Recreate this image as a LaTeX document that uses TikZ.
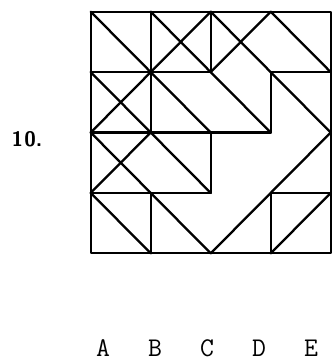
\documentclass[tikz,border=0pt]{standalone}
\usepackage{tikz}
\usetikzlibrary{arrows.meta}

\begin{document}
\begin{tikzpicture}[x=60pt,y=-60.4pt,line width=2.3pt,line cap=round,line join=round]
\useasboundingbox(-1.512,-0.194)rectangle(4.088,5.783);
% frame and inner edges
\draw(0,0)rectangle(4,4);
\draw(1,0)--(1,2) (1,3)--(1,4) (2,0)--(2,1) (2,2)--(2,3) (3,1)--(3,2) (3,3)--(3,4);
\draw(0,1)--(2,1) (3,1)--(4,1) (0,2)--(3,2) (0,3)--(2,3) (3,3)--(4,3);
% diagonals
\draw(0,0)--(2,2) (1,0)--(3,2) (2,0)--(4,2) (3,0)--(4,1)
(0,1)--(2,3) (0,2)--(2,4) (0,3)--(1,4);
\draw(0,2)--(2,0) (2,1)--(3,0) (0,3)--(1,2) (2,4)--(4,2) (3,4)--(4,3);
\node(num)at(-1.062,2.108){\fontsize{21}{21}\sffamily\bfseries 1\hspace{1pt}0.};
\foreach \l/\x in {A/0.205,B/1.072,C/1.938,D/2.805,E/3.672}
  \node(\l)at(\x,5.568){\fontsize{27}{27}\ttfamily \l};
\end{tikzpicture}
\end{document}
